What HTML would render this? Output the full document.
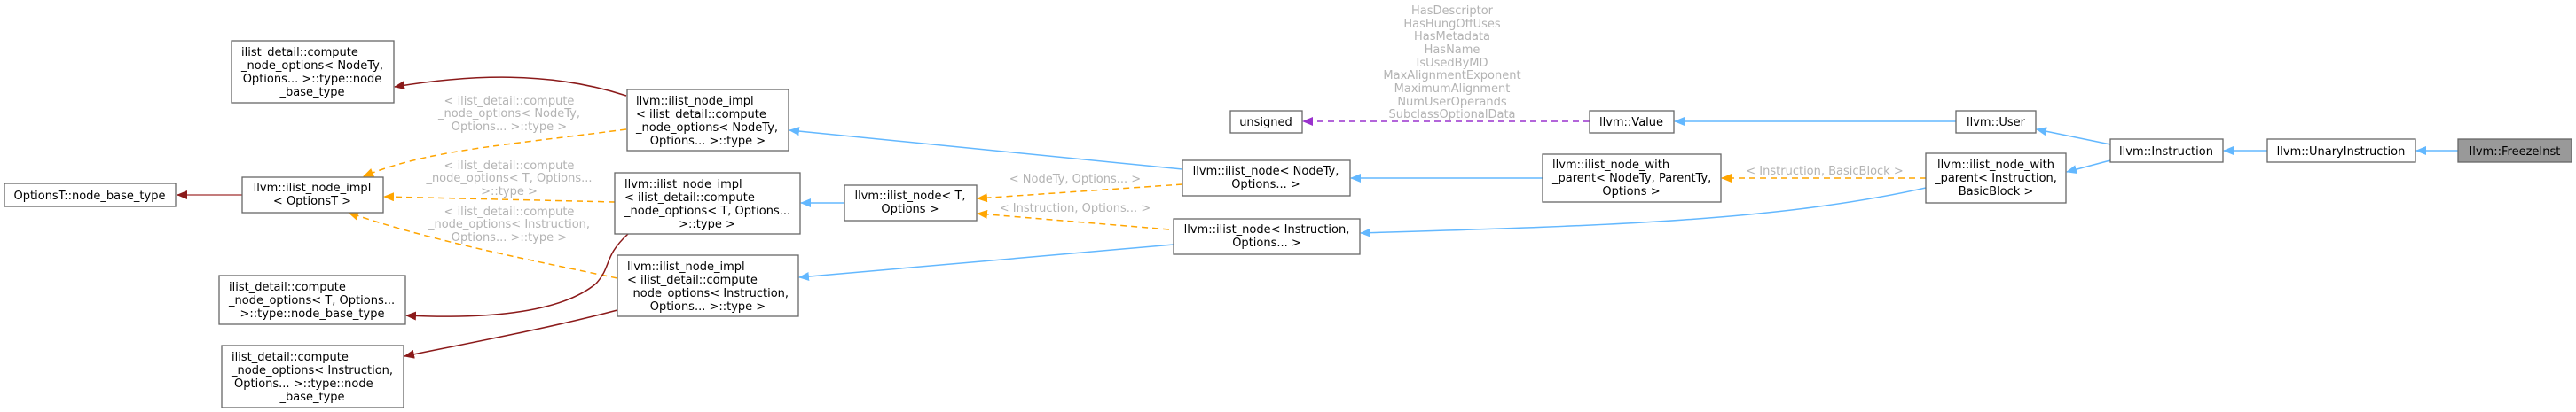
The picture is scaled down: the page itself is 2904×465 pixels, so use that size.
<!DOCTYPE html>
<html><head><meta charset="utf-8"><style>
html,body{margin:0;padding:0;background:#fff;width:2904px;height:465px;overflow:hidden}
svg{display:block}
text{font-family:"DejaVu Sans","Liberation Sans",sans-serif;font-size:13px;fill:#000}
text.l{fill:#b3b3b3}
rect{fill:#fff;stroke:#666;stroke-width:1.3}
</style></head><body>
<svg width="2904" height="465" viewBox="0 0 2904 465" xmlns="http://www.w3.org/2000/svg">
<defs>
<marker id="b" markerWidth="12" markerHeight="10" refX="11" refY="5" orient="auto" markerUnits="userSpaceOnUse"><path d="M0,0L12,5L0,10z" fill="#63b8ff"/></marker>
<marker id="o" markerWidth="12" markerHeight="10" refX="11" refY="5" orient="auto" markerUnits="userSpaceOnUse"><path d="M0,0L12,5L0,10z" fill="#ffa500"/></marker>
<marker id="r" markerWidth="12" markerHeight="10" refX="11" refY="5" orient="auto" markerUnits="userSpaceOnUse"><path d="M0,0L12,5L0,10z" fill="#8b1a1a"/></marker>
<marker id="p" markerWidth="12" markerHeight="10" refX="11" refY="5" orient="auto" markerUnits="userSpaceOnUse"><path d="M0,0L12,5L0,10z" fill="#9a32cd"/></marker>
</defs>
<g fill="none" stroke-width="1.5">
<path d="M2771,170L2724,170" stroke="#63b8ff" marker-end="url(#b)"/>
<path d="M2556,170L2507,170" stroke="#63b8ff" marker-end="url(#b)"/>
<path d="M2379,163L2296,146" stroke="#63b8ff" marker-end="url(#b)"/>
<path d="M2379,181L2330,194" stroke="#63b8ff" marker-end="url(#b)"/>
<path d="M2205,137L1888,137" stroke="#63b8ff" marker-end="url(#b)"/>
<path d="M1792,137L1469,137" stroke="#9a32cd" stroke-dasharray="7,5" marker-end="url(#p)"/>
<path d="M2171,201L1941,201" stroke="#ffa500" stroke-dasharray="7,5" marker-end="url(#o)"/>
<path d="M2171,212C2000,250 1800,255 1534,263" stroke="#63b8ff" marker-end="url(#b)"/>
<path d="M1739,201L1523,201" stroke="#63b8ff" marker-end="url(#b)"/>
<path d="M1333,191L890,147" stroke="#63b8ff" marker-end="url(#b)"/>
<path d="M1333,208L1102,224" stroke="#ffa500" stroke-dasharray="7,5" marker-end="url(#o)"/>
<path d="M1318,259L1102,241" stroke="#ffa500" stroke-dasharray="7,5" marker-end="url(#o)"/>
<path d="M1323,276L901,313" stroke="#63b8ff" marker-end="url(#b)"/>
<path d="M952,229L903,229" stroke="#63b8ff" marker-end="url(#b)"/>
<path d="M706,108C620,80 530,84 445,98" stroke="#8b1a1a" marker-end="url(#r)"/>
<path d="M706,146C560,165 480,170 410,199" stroke="#ffa500" stroke-dasharray="7,5" marker-end="url(#o)"/>
<path d="M693,228L433,222" stroke="#ffa500" stroke-dasharray="7,5" marker-end="url(#o)"/>
<path d="M696,314C580,290 480,270 393,240" stroke="#ffa500" stroke-dasharray="7,5" marker-end="url(#o)"/>
<path d="M708,264C680,290 690,300 672,320C630,355 540,360 458,356" stroke="#8b1a1a" marker-end="url(#r)"/>
<path d="M696,350C620,370 540,385 456,402" stroke="#8b1a1a" marker-end="url(#r)"/>
<path d="M273,220L200,220" stroke="#b05050" marker-end="url(#r)"/>
</g>
<g text-anchor="middle">
<text class="l" x="1637" y="16">HasDescriptor</text>
<text class="l" x="1637" y="31">HasHungOffUses</text>
<text class="l" x="1637" y="45">HasMetadata</text>
<text class="l" x="1637" y="60">HasName</text>
<text class="l" x="1637" y="75">IsUsedByMD</text>
<text class="l" x="1637" y="89">MaxAlignmentExponent</text>
<text class="l" x="1637" y="104">MaximumAlignment</text>
<text class="l" x="1637" y="119">NumUserOperands</text>
<text class="l" x="1637" y="133">SubclassOptionalData</text>
<text class="l" x="1212" y="206">&lt; NodeTy, Options... &gt;</text>
<text class="l" x="1212" y="239">&lt; Instruction, Options... &gt;</text>
<text class="l" x="2057" y="197">&lt; Instruction, BasicBlock &gt;</text>
<text class="l" x="574" y="118">&lt; ilist_detail::compute</text>
<text class="l" x="574" y="132">_node_options&lt; NodeTy,</text>
<text class="l" x="574" y="147">Options... &gt;::type &gt;</text>
<text class="l" x="574" y="191">&lt; ilist_detail::compute</text>
<text class="l" x="574" y="205">_node_options&lt; T, Options...</text>
<text class="l" x="574" y="220">&gt;::type &gt;</text>
<text class="l" x="574" y="243">&lt; ilist_detail::compute</text>
<text class="l" x="574" y="257">_node_options&lt; Instruction,</text>
<text class="l" x="574" y="272">Options... &gt;::type &gt;</text>
</g>
<rect x="2771" y="157" width="128" height="26" style="fill:#999"/>
<text x="2835" y="175" text-anchor="middle">llvm::FreezeInst</text>
<rect x="2556" y="157" width="167" height="26"/>
<text x="2639" y="175" text-anchor="middle">llvm::UnaryInstruction</text>
<rect x="2379" y="157" width="127" height="26"/>
<text x="2442" y="175" text-anchor="middle">llvm::Instruction</text>
<rect x="2205" y="125" width="90" height="25"/>
<text x="2250" y="142" text-anchor="middle">llvm::User</text>
<rect x="1792" y="125" width="95" height="25"/>
<text x="1839" y="142" text-anchor="middle">llvm::Value</text>
<rect x="1387" y="125" width="81" height="25"/>
<text x="1427" y="142" text-anchor="middle">unsigned</text>
<rect x="2171" y="173" width="158" height="56"/>
<text x="2250" y="190" text-anchor="middle">llvm::ilist_node_with</text>
<text x="2250" y="205" text-anchor="middle">_parent&lt; Instruction,</text>
<text x="2250" y="220" text-anchor="middle">BasicBlock &gt;</text>
<rect x="1739" y="174" width="201" height="54"/>
<text x="1750" y="190">llvm::ilist_node_with</text>
<text x="1750" y="205">_parent&lt; NodeTy, ParentTy,</text>
<text x="1839" y="220" text-anchor="middle">Options &gt;</text>
<rect x="1333" y="181" width="189" height="40"/>
<text x="1427" y="197" text-anchor="middle">llvm::ilist_node&lt; NodeTy,</text>
<text x="1427" y="212" text-anchor="middle">Options... &gt;</text>
<rect x="1323" y="247" width="210" height="40"/>
<text x="1428" y="263" text-anchor="middle">llvm::ilist_node&lt; Instruction,</text>
<text x="1428" y="278" text-anchor="middle">Options... &gt;</text>
<rect x="952" y="209" width="149" height="40"/>
<text x="1026" y="225" text-anchor="middle">llvm::ilist_node&lt; T,</text>
<text x="1026" y="240" text-anchor="middle">Options &gt;</text>
<rect x="707" y="101" width="182" height="69"/>
<text x="717" y="118">llvm::ilist_node_impl</text>
<text x="717" y="133">&lt; ilist_detail::compute</text>
<text x="717" y="148">_node_options&lt; NodeTy,</text>
<text x="798" y="163" text-anchor="middle">Options... &gt;::type &gt;</text>
<rect x="693" y="195" width="209" height="69"/>
<text x="704" y="212">llvm::ilist_node_impl</text>
<text x="704" y="227">&lt; ilist_detail::compute</text>
<text x="704" y="242">_node_options&lt; T, Options...</text>
<text x="797" y="257" text-anchor="middle">&gt;::type &gt;</text>
<rect x="696" y="288" width="204" height="69"/>
<text x="707" y="305">llvm::ilist_node_impl</text>
<text x="707" y="320">&lt; ilist_detail::compute</text>
<text x="707" y="335">_node_options&lt; Instruction,</text>
<text x="798" y="350" text-anchor="middle">Options... &gt;::type &gt;</text>
<rect x="273" y="200" width="159" height="40"/>
<text x="352" y="216" text-anchor="middle">llvm::ilist_node_impl</text>
<text x="352" y="231" text-anchor="middle">&lt; OptionsT &gt;</text>
<rect x="5" y="207" width="193" height="26"/>
<text x="101" y="225" text-anchor="middle">OptionsT::node_base_type</text>
<rect x="261" y="46" width="183" height="70"/>
<text x="272" y="63">ilist_detail::compute</text>
<text x="352" y="78" text-anchor="middle">_node_options&lt; NodeTy,</text>
<text x="352" y="93" text-anchor="middle">Options... &gt;::type::node</text>
<text x="352" y="108" text-anchor="middle">_base_type</text>
<rect x="247" y="311" width="210" height="55"/>
<text x="258" y="328">ilist_detail::compute</text>
<text x="258" y="343">_node_options&lt; T, Options...</text>
<text x="352" y="358" text-anchor="middle">&gt;::type::node_base_type</text>
<rect x="250" y="390" width="205" height="70"/>
<text x="261" y="407">ilist_detail::compute</text>
<text x="261" y="422">_node_options&lt; Instruction,</text>
<text x="264" y="437">Options... &gt;::type::node</text>
<text x="352" y="452" text-anchor="middle">_base_type</text>
</svg>
</body></html>
